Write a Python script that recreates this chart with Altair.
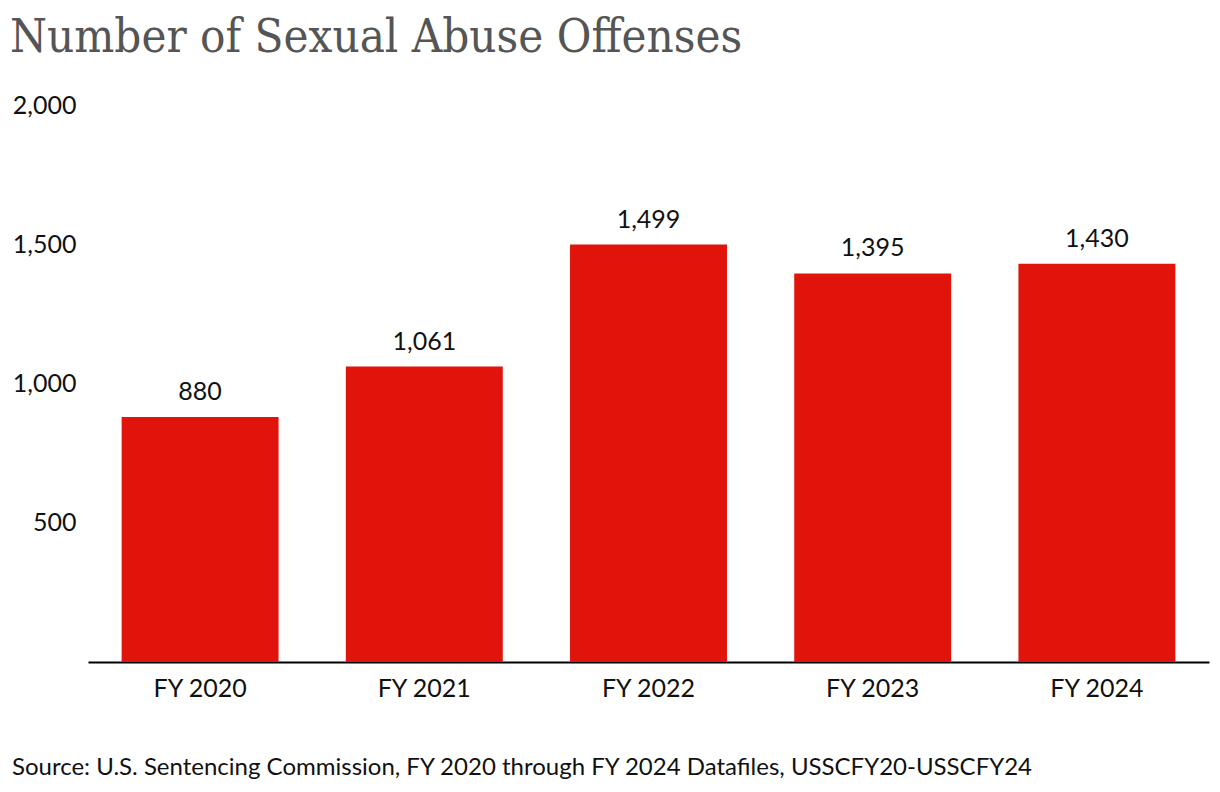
import altair as alt
import pandas as pd

years = ["FY 2020", "FY 2021", "FY 2022", "FY 2023", "FY 2024"]
counts = [880, 1061, 1499, 1395, 1430]
y_ticks = [500, 1000, 1500, 2000]
title_text = "Number of Sexual Abuse Offenses"
source_text = "Source: U.S. Sentencing Commission, FY 2020 through FY 2024 Datafiles, USSCFY20-USSCFY24"

df = pd.DataFrame({"year": years, "count": counts})

W, H = 1121, 557

x = alt.X("year:N", sort=years, title=None,
          scale=alt.Scale(paddingInner=0.3, paddingOuter=0.15),
          axis=alt.Axis(labelAngle=0, labelFont="Lato", labelFontSize=25, labelColor="#111",
                        labelPadding=14, ticks=False, domainColor="#000", domainWidth=2))
y = alt.Y("count:Q", title=None,
          scale=alt.Scale(domain=[0, 2000], nice=False),
          axis=alt.Axis(values=y_ticks, format=",.0f", labelFont="Lato", labelFontSize=25,
                        labelColor="#111", labelPadding=12, ticks=False, domain=False, grid=False))

bars = alt.Chart(df).mark_bar(color="#e0140a").encode(x=x, y=y)
labels = alt.Chart(df).mark_text(font="Lato", fontSize=25, color="#111", dy=-17,
                                 baseline="alphabetic").encode(
    x=x, y=y, text=alt.Text("count:Q", format=","))
source = alt.Chart(pd.DataFrame({"t": [source_text]})).mark_text(
    font="Lato", fontSize=24, color="#111", align="left", baseline="alphabetic").encode(
    x=alt.value(-76), y=alt.value(670), text="t:N")

chart = alt.layer(bars, labels, source).properties(
    width=W, height=H,
    autosize=alt.AutoSizeParams(type="none"),
    padding={"left": 80, "top": 97, "right": 3, "bottom": 130},
    title=alt.TitleParams(title_text, anchor="start", frame="group",
                          font="DejaVu Serif Condensed, DejaVu Serif",
                          fontSize=47, fontWeight="normal", color="#555555", dx=-78, offset=31),
).configure(background="white").configure_view(stroke=None)

chart.save("out.html", embed_options={"renderer": "svg", "actions": False})
